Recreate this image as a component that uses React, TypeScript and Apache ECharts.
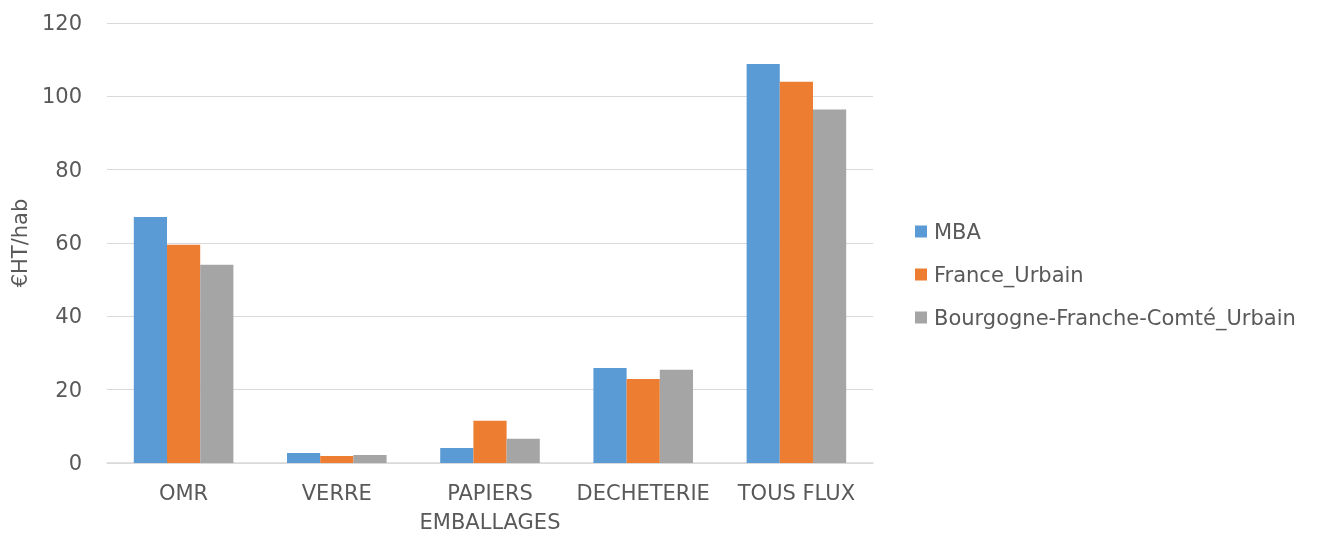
import React, { useEffect, useRef } from "react";
import * as echarts from "echarts";

const categories = ["OMR", "VERRE", "PAPIERS\nEMBALLAGES", "DECHETERIE", "TOUS FLUX"];
const mba = [67.1, 2.7, 4.1, 25.9, 108.8];
const franceUrbain = [59.5, 1.9, 11.5, 22.9, 104.0];
const bfcUrbain = [54.1, 2.2, 6.6, 25.4, 96.4];
const seriesNames = ["MBA", "France_Urbain", "Bourgogne-Franche-Comté_Urbain"];
const colors = ["#5b9bd5", "#ed7d31", "#a5a5a5"];
const yTicks = { min: 0, max: 120, interval: 20 };

const FONT = "'DejaVu Sans', sans-serif";
const TEXT = "#595959";
const FS = 21;

export default function App() {
  const ref = useRef<HTMLDivElement>(null);
  useEffect(() => {
    if (!ref.current) return;
    const chart = echarts.init(ref.current, null, { renderer: "svg" });
    const data = [mba, franceUrbain, bfcUrbain];
    chart.setOption({
      animation: false,
      color: colors,
      textStyle: { fontFamily: FONT, color: TEXT },
      grid: { left: 107, right: 470, top: 23, bottom: 71, containLabel: false, outerBoundsMode: "none" },
      legend: {
        orient: "vertical",
        left: 910,
        top: 216,
        itemWidth: 12,
        itemHeight: 12,
        itemGap: 22,
        icon: "rect",
        textStyle: { fontSize: FS, color: TEXT, fontFamily: FONT, padding: [0, 0, 0, 2] },
        data: seriesNames,
      },
      xAxis: {
        type: "category",
        data: categories,
        axisLine: { lineStyle: { color: "#d9d9d9", width: 1.5 } },
        axisTick: { show: false },
        axisLabel: { interval: 0, fontSize: FS, color: TEXT, margin: 15, lineHeight: 29, fontFamily: FONT },
      },
      yAxis: {
        type: "value",
        min: yTicks.min,
        max: yTicks.max,
        interval: yTicks.interval,
        name: "€HT/hab",
        nameLocation: "middle",
        nameGap: 77,
        nameTextStyle: { fontSize: FS, color: TEXT, fontFamily: FONT },
        axisLine: { show: false },
        axisTick: { show: false },
        splitLine: { lineStyle: { color: "#d9d9d9", width: 1 } },
        axisLabel: { fontSize: FS, color: TEXT, margin: 25, fontFamily: FONT },
      },
      series: seriesNames.map((name, i) => ({
        name,
        type: "bar",
        data: data[i],
        barGap: "0%",
        barCategoryGap: "35%",
        itemStyle: { color: colors[i] },
      })),
    });
    return () => chart.dispose();
  }, []);
  return <div ref={ref} style={{ position: "fixed", left: 0, top: 0, width: 1343, height: 534 }} />;
}
